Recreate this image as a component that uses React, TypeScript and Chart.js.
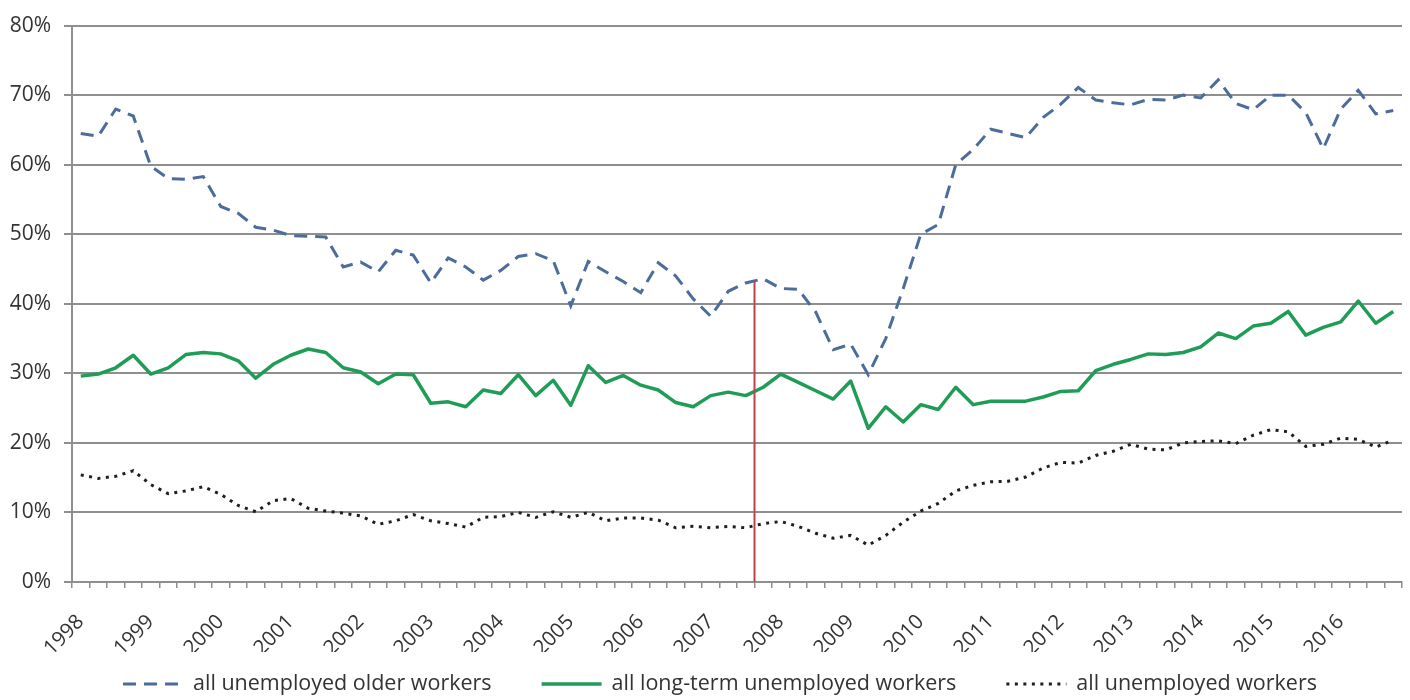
import React, { useEffect, useRef } from 'react';
import { Chart, registerables } from 'chart.js';

Chart.register(...registerables);

// Year labels shown on the category axis (one every four quarters)
const YEARS = [
  '1998', '1999', '2000', '2001', '2002', '2003', '2004', '2005', '2006', '2007',
  '2008', '2009', '2010', '2011', '2012', '2013', '2014', '2015', '2016',
];
const QUARTER_NAMES = ['Q1', 'Q2', 'Q3', 'Q4'];
const QUARTERS = YEARS.flatMap((y) => QUARTER_NAMES.map((q) => `${y} ${q}`));

// Share (%) of each group, quarterly 1998 Q1 – 2016 Q4
const OLDER_WORKERS = [
  64.5, 64.1, 68.0, 67.0, 59.8, 58.0, 57.9, 58.3, 54.0, 53.0, 51.0, 50.6, 49.8, 49.7, 49.6, 45.3,
  46.0, 44.6, 47.7, 47.0, 43.0, 46.6, 45.3, 43.4, 44.8, 46.8, 47.2, 46.2, 39.7, 46.1, 44.6, 43.2,
  41.6, 45.9, 44.0, 40.7, 38.2, 41.8, 43.0, 43.6, 42.2, 42.1, 38.8, 33.4, 34.2, 29.8, 35.0, 42.2,
  50.0, 51.4, 60.0, 62.2, 65.1, 64.5, 63.9, 66.8, 68.7, 71.1, 69.3, 68.9, 68.6, 69.4, 69.3, 70.0,
  69.6, 72.2, 68.8, 67.9, 70.0, 70.0, 67.5, 62.3, 68.0, 70.7, 67.3, 67.8,
];
const LONG_TERM_WORKERS = [
  29.6, 29.9, 30.8, 32.6, 29.9, 30.8, 32.7, 33.0, 32.8, 31.8, 29.3, 31.3, 32.6, 33.5, 33.0, 30.8,
  30.2, 28.5, 29.9, 29.8, 25.7, 25.9, 25.2, 27.6, 27.1, 29.8, 26.8, 29.0, 25.4, 31.1, 28.7, 29.7,
  28.3, 27.6, 25.8, 25.2, 26.8, 27.3, 26.8, 28.0, 29.9, 28.7, 27.5, 26.3, 28.9, 22.1, 25.2, 23.0,
  25.5, 24.8, 28.0, 25.5, 26.0, 26.0, 26.0, 26.6, 27.4, 27.5, 30.4, 31.3, 32.0, 32.8, 32.7, 33.0,
  33.8, 35.8, 35.0, 36.8, 37.2, 38.9, 35.5, 36.6, 37.4, 40.4, 37.2, 38.9,
];
const ALL_WORKERS = [
  15.4, 14.9, 15.2, 16.0, 14.0, 12.7, 13.1, 13.7, 12.6, 11.0, 10.1, 11.7, 12.0, 10.6, 10.2, 9.9,
  9.5, 8.3, 8.8, 9.7, 8.8, 8.4, 7.9, 9.3, 9.4, 10.0, 9.3, 10.1, 9.3, 10.0, 8.8, 9.2,
  9.2, 8.9, 7.8, 8.0, 7.8, 8.0, 7.8, 8.4, 8.7, 8.0, 7.0, 6.3, 6.7, 5.3, 6.7, 8.6,
  10.2, 11.3, 13.1, 13.9, 14.4, 14.5, 15.1, 16.4, 17.2, 17.1, 18.2, 18.8, 19.8, 19.1, 19.0, 20.0,
  20.2, 20.3, 19.9, 21.1, 21.9, 21.6, 19.5, 19.8, 20.7, 20.5, 19.4, 20.4,
];

const SERIES_LABELS = [
  'all unemployed older workers',
  'all long-term unemployed workers',
  'all unemployed workers',
];

// Recession start: boundary between 2007 Q3 and 2007 Q4 (category indices 38 and 39)
const RECESSION_FROM = 38;
const RECESSION_TO = 39;

const Y_MIN = 0;
const Y_MAX = 80;
const Y_STEP = 10;

const FONT = '"Open Sans", "Noto Sans", "DejaVu Sans", sans-serif';
const TEXT_COLOR = '#333333';
const GRID_COLOR = '#8f8f8f';

const recessionMarker = {
  id: 'recessionMarker',
  afterDatasetsDraw(chart: any) {
    const { ctx, scales } = chart;
    const xs = scales.x;
    const ys = scales.y;
    const px = xs.getPixelForValue((RECESSION_FROM + RECESSION_TO) / 2);
    const topValue = (OLDER_WORKERS[RECESSION_FROM] + OLDER_WORKERS[RECESSION_TO]) / 2;
    ctx.save();
    ctx.strokeStyle = '#c0404a';
    ctx.lineWidth = 2;
    ctx.beginPath();
    ctx.moveTo(px, ys.getPixelForValue(Y_MIN));
    ctx.lineTo(px, ys.getPixelForValue(topValue));
    ctx.stroke();
    ctx.restore();
  },
};

const bottomLegend = {
  id: 'bottomLegend',
  afterDraw(chart: any) {
    const { ctx } = chart;
    const sampleW = 60;
    const sampleGap = 10;
    const itemGap = 50;
    const centerX = 720;
    const y = 684;
    ctx.save();
    ctx.font = `21.5px ${FONT}`;
    const items = chart.data.datasets.map((ds: any) => ({ ds, w: ctx.measureText(ds.label).width }));
    const total =
      items.reduce((s: number, it: any) => s + sampleW + sampleGap + it.w, 0) + itemGap * (items.length - 1);
    let x = centerX - total / 2;
    for (const it of items) {
      const ds = it.ds;
      ctx.beginPath();
      ctx.setLineDash(ds.borderDash || []);
      ctx.lineWidth = ds.borderWidth;
      ctx.strokeStyle = ds.borderColor;
      ctx.moveTo(x, y);
      ctx.lineTo(x + sampleW, y);
      ctx.stroke();
      ctx.setLineDash([]);
      ctx.fillStyle = TEXT_COLOR;
      ctx.textAlign = 'left';
      ctx.textBaseline = 'middle';
      ctx.fillText(ds.label, x + sampleW + sampleGap, y);
      x += sampleW + sampleGap + it.w + itemGap;
    }
    ctx.restore();
  },
};

export default function App() {
  const canvasRef = useRef<HTMLCanvasElement | null>(null);

  useEffect(() => {
    const canvas = canvasRef.current;
    if (!canvas) return;
    const chart = new Chart(canvas, {
      type: 'line',
      data: {
        labels: QUARTERS,
        datasets: [
          {
            label: SERIES_LABELS[0],
            data: OLDER_WORKERS,
            borderColor: '#4c6c9c',
            borderWidth: 3,
            borderDash: [13, 8],
            pointRadius: 0,
            fill: false,
          },
          {
            label: SERIES_LABELS[1],
            data: LONG_TERM_WORKERS,
            borderColor: '#1f9d57',
            borderWidth: 3.5,
            borderJoinStyle: 'round',
            pointRadius: 0,
            fill: false,
          },
          {
            label: SERIES_LABELS[2],
            data: ALL_WORKERS,
            borderColor: '#1e1e1e',
            borderWidth: 3,
            borderDash: [3, 5.5],
            pointRadius: 0,
            fill: false,
          },
        ],
      },
      options: {
        responsive: false,
        animation: false,
        layout: { padding: { left: 0, right: 8, top: 19, bottom: 48 } },
        elements: { line: { tension: 0 } },
        plugins: {
          legend: { display: false },
          tooltip: { enabled: false },
        },
        scales: {
          x: {
            type: 'category',
            offset: true,
            grid: {
              offset: true,
              drawOnChartArea: false,
              drawTicks: true,
              tickLength: 6,
              color: GRID_COLOR,
              lineWidth: 1.5,
            },
            border: { display: true, color: GRID_COLOR, width: 2 },
            ticks: {
              autoSkip: false,
              maxRotation: 45,
              minRotation: 45,
              padding: 22,
              color: TEXT_COLOR,
              font: { family: FONT, size: 20.5 },
              callback: (_v: any, i: number) => (i % 4 === 0 ? YEARS[i / 4] : ''),
            },
            afterFit: (s: any) => {
              s.height = 70;
              s.paddingLeft = 0;
              s.paddingRight = 0;
            },
          },
          y: {
            min: Y_MIN,
            max: Y_MAX,
            ticks: {
              stepSize: Y_STEP,
              padding: 13,
              color: TEXT_COLOR,
              font: { family: FONT, size: 21 },
              callback: (v: any) => `${v}%`,
            },
            grid: { color: GRID_COLOR, lineWidth: 2, tickLength: 8 },
            border: { display: true, color: GRID_COLOR, width: 2 },
            afterFit: (s: any) => {
              s.width = 72;
            },
          },
        },
      },
      plugins: [recessionMarker, bottomLegend],
    } as any);
    return () => chart.destroy();
  }, []);

  return (
    <div style={{ position: 'absolute', left: 0, top: 0, width: 1410, height: 700, background: '#ffffff' }}>
      <canvas ref={canvasRef} width={1410} height={700} />
    </div>
  );
}
